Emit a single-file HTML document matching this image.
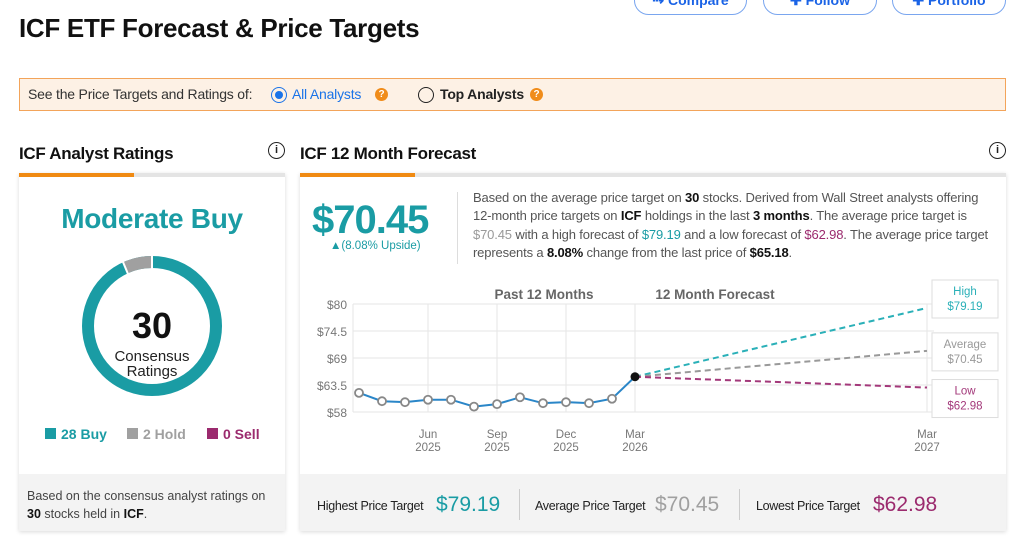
<!DOCTYPE html>
<html><head><meta charset="utf-8"><style>
*{box-sizing:border-box;margin:0;padding:0}
body{width:1024px;height:543px;overflow:hidden;background:#fff;font-family:"Liberation Sans",sans-serif;position:relative;color:#222}
.abs{position:absolute}
.btn{position:absolute;top:-14px;height:29px;border:1.5px solid #7aa6ef;border-radius:15px;color:#1a63e6;font-size:14px;font-weight:bold;text-align:center;line-height:26px}
.card{position:absolute;background:#fff;box-shadow:0 1px 4px rgba(0,0,0,.15)}
.bar{position:absolute;top:0;height:4px}
</style></head><body>
<div class="btn" style="left:634px;width:113px">⇢ Compare</div>
<div class="btn" style="left:763px;width:114px">✚ Follow</div>
<div class="btn" style="left:892px;width:114px">✚ Portfolio</div>
<div class="abs" style="left:19px;top:13px;font-size:26px;font-weight:bold;letter-spacing:-0.3px;color:#111">ICF ETF Forecast &amp; Price Targets</div>

<div class="abs" style="left:19px;top:78px;width:987px;height:33px;background:#fdf1e5;border:1px solid #f3a45a;font-size:14px;line-height:31px;letter-spacing:-0.2px">
 <span class="abs" style="left:8px;color:#333">See the Price Targets and Ratings of:</span>
 <span class="abs" style="left:251px;top:8px;width:16px;height:16px;border:1.5px solid #1a73e8;border-radius:50%"><span class="abs" style="left:2.5px;top:2.5px;width:8px;height:8px;border-radius:50%;background:#1a73e8"></span></span>
 <span class="abs" style="left:272px;color:#1a73e8">All Analysts</span>
 <span class="abs" style="left:355px;top:9px;width:13px;height:13px;border-radius:50%;background:#f08c1a;color:#fff;font-size:10px;line-height:13px;text-align:center;font-weight:bold">?</span>
 <span class="abs" style="left:398px;top:8px;width:16px;height:16px;border:1.5px solid #222;border-radius:50%"></span>
 <span class="abs" style="left:420px;color:#222;font-weight:bold">Top Analysts</span>
 <span class="abs" style="left:510px;top:9px;width:13px;height:13px;border-radius:50%;background:#f08c1a;color:#fff;font-size:10px;line-height:13px;text-align:center;font-weight:bold">?</span>
</div>

<div class="abs" style="left:19px;top:144px;font-size:17px;font-weight:bold;letter-spacing:-0.3px;color:#111">ICF Analyst Ratings</div>
<div class="abs" style="left:268px;top:142px;width:17px;height:17px;border:1.5px solid #222;border-radius:50%;font-size:11px;text-align:center;line-height:14px;font-weight:bold">i</div>
<div class="abs" style="left:300px;top:144px;font-size:17px;font-weight:bold;letter-spacing:-0.3px;color:#111">ICF 12 Month Forecast</div>
<div class="abs" style="left:989px;top:142px;width:17px;height:17px;border:1.5px solid #222;border-radius:50%;font-size:11px;text-align:center;line-height:14px;font-weight:bold">i</div>

<div class="card" style="left:19px;top:173px;width:266px;height:358px">
 <div class="bar" style="left:0;width:266px;background:#e4e4e4"></div><div class="bar" style="left:0;width:115px;background:#f08a12"></div>
 <div class="abs" style="left:0;width:266px;top:30px;text-align:center;font-size:28px;font-weight:bold;color:#1a9ca4;letter-spacing:-0.3px">Moderate Buy</div>
 <svg class="abs" style="left:63px;top:83px" width="140" height="140">
  <circle cx="70" cy="70" r="64" fill="none" stroke="#1a9ca4" stroke-width="12"/>
  <path d="M70 6 A64 64 0 0 0 43.6 11.7" fill="none" stroke="#a0a0a0" stroke-width="12"/>
  <line x1="70" y1="0" x2="70" y2="14" stroke="#fff" stroke-width="2"/>
  <line x1="41" y1="6" x2="46" y2="18" stroke="#fff" stroke-width="2"/>
  <text x="70" y="82" text-anchor="middle" font-size="36" font-weight="bold" fill="#111">30</text>
  <text x="70" y="105" text-anchor="middle" font-size="15" fill="#222">Consensus</text>
  <text x="70" y="120" text-anchor="middle" font-size="15" fill="#222">Ratings</text>
 </svg>
 <div class="abs" style="top:253px;left:26px;font-size:14px;font-weight:bold;color:#1a9ca4"><span style="display:inline-block;width:11px;height:11px;background:#1a9ca4;margin-right:5px"></span>28 Buy</div>
 <div class="abs" style="top:253px;left:108px;font-size:14px;font-weight:bold;color:#a0a0a0"><span style="display:inline-block;width:11px;height:11px;background:#a0a0a0;margin-right:5px"></span>2 Hold</div>
 <div class="abs" style="top:253px;left:188px;font-size:14px;font-weight:bold;color:#9b2a6e"><span style="display:inline-block;width:11px;height:11px;background:#9b2a6e;margin-right:5px"></span>0 Sell</div>
 <div class="abs" style="left:0;top:301px;width:266px;height:57px;background:#f3f3f3;padding:13px 8px;font-size:12.5px;line-height:18px;color:#444">Based on the consensus analyst ratings on <b style="color:#111">30</b> stocks held in <b style="color:#111">ICF</b>.</div>
</div>

<div class="card" style="left:300px;top:173px;width:706px;height:358px">
 <div class="bar" style="left:0;width:706px;background:#e4e4e4"></div><div class="bar" style="left:0;width:115px;background:#f08a12"></div>
 <div class="abs" style="left:12px;top:25px;font-size:40px;font-weight:bold;color:#1a9ca4;letter-spacing:-1px">$70.45</div>
 <div class="abs" style="left:30px;top:67px;font-size:11.5px;color:#1a9ca4">▲(8.08% Upside)</div>
 <div class="abs" style="left:157px;top:19px;width:1px;height:72px;background:#ddd"></div>
 <div class="abs" style="left:173px;top:16px;width:530px;font-size:13px;line-height:18.3px;letter-spacing:-0.15px;color:#555;white-space:nowrap">Based on the average price target on <b style="color:#111">30</b> stocks. Derived from Wall Street analysts offering<br>12-month price targets on <b style="color:#111">ICF</b> holdings in the last <b style="color:#111">3 months</b>. The average price target is<br><span style="color:#999">$70.45</span> with a high forecast of <span style="color:#1a9ca4">$79.19</span> and a low forecast of <span style="color:#9b2a6e">$62.98</span>. The average price target<br>represents a <b style="color:#111">8.08%</b> change from the last price of <b style="color:#111">$65.18</b>.</div>
 <div class="abs" style="left:0;top:301px;width:706px;height:57px;background:#f3f3f3">
  <span class="abs" style="left:17px;top:25px;font-size:12.5px;letter-spacing:-0.3px;color:#222">Highest Price Target</span>
  <span class="abs" style="left:136px;top:19px;font-size:21px;color:#1a9ca4">$79.19</span>
  <span class="abs" style="left:219px;top:15px;width:1px;height:31px;background:#ccc"></span>
  <span class="abs" style="left:235px;top:25px;font-size:12.5px;letter-spacing:-0.3px;color:#222">Average Price Target</span>
  <span class="abs" style="left:355px;top:19px;font-size:21px;color:#a0a0a0">$70.45</span>
  <span class="abs" style="left:439px;top:15px;width:1px;height:31px;background:#ccc"></span>
  <span class="abs" style="left:456px;top:25px;font-size:12.5px;letter-spacing:-0.3px;color:#222">Lowest Price Target</span>
  <span class="abs" style="left:573px;top:19px;font-size:21px;color:#9b2a6e">$62.98</span>
 </div>
</div>

<svg class="abs" style="left:0;top:0" width="1024" height="543" id="chart"></svg>
<script>
const yTicks=[80,74.5,69,63.5,58];
const yTickLabels=["$80","$74.5","$69","$63.5","$58"];
const xTickMonths=[3,6,9,12,24];
const xTickLabels=[["Jun","2025"],["Sep","2025"],["Dec","2025"],["Mar","2026"],["Mar","2027"]];
const histMonths=[0,1,2,3,4,5,6,7,8,9,10,11];
const histPrices=[61.9,60.2,60.0,60.5,60.5,59.1,59.6,61.0,59.8,60.0,59.8,60.7];
const currentPrice=65.18;
const forecastNames=["High","Average","Low"];
const forecastValues=[79.19,70.45,62.98];
const forecastColors=["#2ab0b8","#999","#a3387a"];
const ns="http://www.w3.org/2000/svg";
const svg=document.getElementById('chart');
const X=m=>m<=12?359+m*23:635+(m-12)*(927-635)/12;
const Y=v=>304+(80-v)*108/22;
function el(t,a,p){const e=document.createElementNS(ns,t);for(const k in a)e.setAttribute(k,a[k]);(p||svg).appendChild(e);return e;}
yTicks.forEach((v,i)=>{
 const g=el('line',{x1:353,x2:934,y1:Y(v),y2:Y(v),stroke:'#e6e6e6'});
 
 
 const t=el('text',{x:347,y:Y(v)+5,'text-anchor':'end','font-size':12,fill:'#777'});t.textContent=yTickLabels[i];
 
 
});
el('line',{x1:353,x2:353,y1:304,y2:412,stroke:'#e6e6e6'});
xTickMonths.forEach((m,i)=>{
 const g=el('line',{x1:X(m),x2:X(m),y1:304,y2:412,stroke:'#e6e6e6'});
 
 
 xTickLabels[i].forEach((s,j)=>{const t=el('text',{x:X(m),y:438+j*13,'text-anchor':'middle','font-size':11.5,fill:'#777'});t.textContent=s;
 
 });
});
const tt=el('text',{x:544,y:299,'text-anchor':'middle','font-size':13.5,'font-weight':'bold',fill:'#666'});tt.textContent="Past 12 Months";


const tt2=el('text',{x:715,y:299,'text-anchor':'middle','font-size':13.5,'font-weight':'bold',fill:'#666'});tt2.textContent="12 Month Forecast";


const boxOff=[-28,-18,-8];
forecastValues.forEach((v,i)=>{
 const l=el('line',{x1:X(12),y1:Y(currentPrice),x2:X(24),y2:Y(v),stroke:forecastColors[i],'stroke-width':2,'stroke-dasharray':'6,4'});
 
 
 const by=Y(v)+boxOff[i];
 const r=el('rect',{x:932,y:by,width:66,height:38,fill:'#fff',stroke:'#ddd'});
 
 
 const a=el('text',{x:965,y:by+15,'text-anchor':'middle','font-size':11.5,fill:forecastColors[i]});a.textContent=forecastNames[i];
 const b=el('text',{x:965,y:by+30,'text-anchor':'middle','font-size':11.5,fill:forecastColors[i]});b.textContent='$'+v.toFixed(2);
});
const pts=histMonths.map((m,i)=>X(m)+','+Y(histPrices[i])).concat([X(12)+','+Y(currentPrice)]).join(' ');
const pl=el('polyline',{points:pts,fill:'none',stroke:'#2a86c8','stroke-width':2});


histMonths.forEach((m,i)=>{
 const c=el('circle',{cx:X(m),cy:Y(histPrices[i]),r:4,fill:'#fff',stroke:'#888','stroke-width':1.8});
 
 
});
const cp=el('circle',{cx:X(12),cy:Y(currentPrice),r:4.5,fill:'#111'});


</script>
</body></html>
